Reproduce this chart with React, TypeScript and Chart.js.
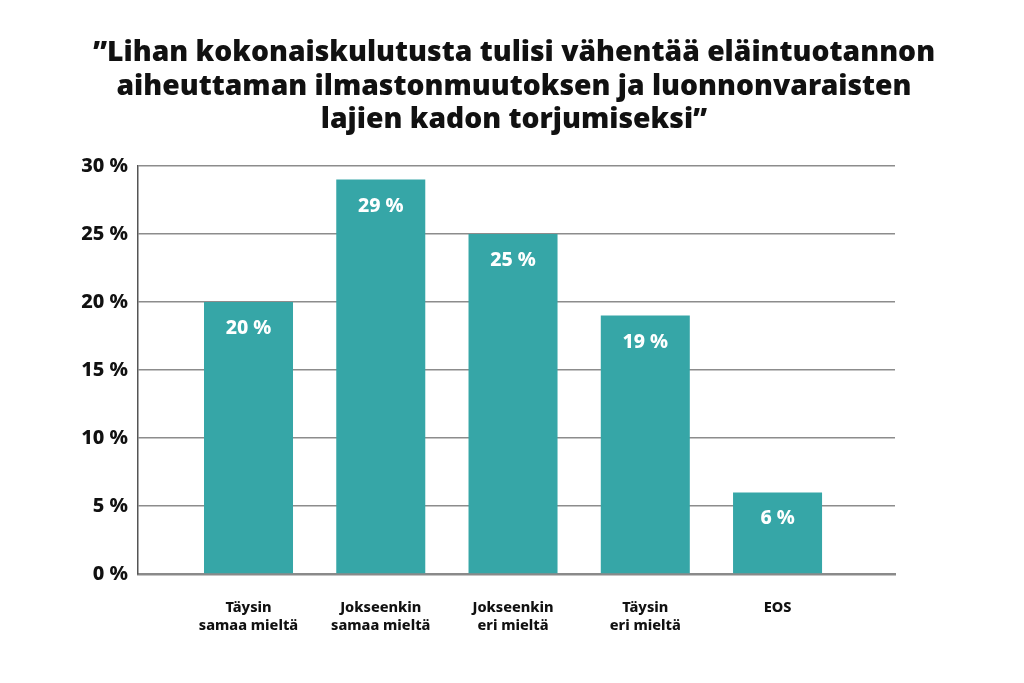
import React, { useEffect, useRef } from "react";
import { Chart, registerables } from "chart.js";

Chart.register(...registerables);

const titleLines = [
  "”Lihan kokonaiskulutusta tulisi vähentää eläintuotannon",
  "aiheuttaman ilmastonmuutoksen ja luonnonvaraisten",
  "lajien kadon torjumiseksi”",
];
const categories: string[][] = [
  ["Täysin", "samaa mieltä"],
  ["Jokseenkin", "samaa mieltä"],
  ["Jokseenkin", "eri mieltä"],
  ["Täysin", "eri mieltä"],
  ["EOS"],
];
const values = [20, 29, 25, 19, 6];
const yTicks = [0, 5, 10, 15, 20, 25, 30];
const barColor = "#36a6a7";
const FONT = "'Noto Sans'";

const dataLabelPlugin = {
  id: "dataLabels",
  afterDatasetsDraw(chart: any) {
    const ctx = chart.ctx;
    const meta = chart.getDatasetMeta(0);
    ctx.save();
    ctx.fillStyle = "#ffffff";
    ctx.font = "800 19.5px " + FONT;
    ctx.textAlign = "center";
    ctx.textBaseline = "middle";
    meta.data.forEach((bar: any, i: number) => {
      ctx.fillText(values[i] + " %", bar.x, bar.y + 26.5);
    });
    ctx.restore();
  },
};

export default function App() {
  const ref = useRef<HTMLCanvasElement | null>(null);
  useEffect(() => {
    document.body.style.margin = "0";
    if (!ref.current) return;
    const chart = new Chart(ref.current, {
      type: "bar",
      data: {
        datasets: [
          {
            data: values.map((v, i) => ({ x: i, y: v })),
            backgroundColor: barColor,
            borderWidth: 0,
            categoryPercentage: 1,
            barPercentage: 0.673,
          },
        ],
      },
      plugins: [dataLabelPlugin],
      options: {
        animation: false,
        responsive: true,
        maintainAspectRatio: false,
        layout: { padding: { left: 4, right: 0, top: 0, bottom: 0 } },
        plugins: {
          legend: { display: false },
          tooltip: { enabled: false },
          title: {
            display: true,
            text: titleLines,
            color: "#111111",
            font: { family: FONT, size: 28.3, weight: "900", lineHeight: 1.2 },
            padding: { top: 35.5, bottom: 28.5 },
          },
        },
        scales: {
          x: {
            type: "linear",
            min: -0.8355,
            max: 4.888,
            offset: false,
            grid: { display: false, drawTicks: false, offset: false },
            border: { display: true, color: "#8a8a8a", width: 2.5 },
            ticks: {
              stepSize: 1,
              includeBounds: false,
              autoSkip: false,
              maxRotation: 0,
              padding: 25,
              color: "#111111",
              font: { family: FONT, size: 14.5, weight: "800", lineHeight: 1.22 },
              callback: (v: any) => (Number.isInteger(v) && categories[v] ? categories[v] : ""),
            },
            afterFit: (s: any) => {
              s.height = 109;
            },
          },
          y: {
            min: 0,
            max: 30,
            grid: { color: "#8c8c8c", lineWidth: 1.5, drawTicks: false },
            border: { display: true, color: "#555555", width: 1.5 },
            afterBuildTicks: (s: any) => {
              s.ticks = yTicks.map((v) => ({ value: v }));
            },
            ticks: {
              padding: 10,
              color: "#111111",
              font: { family: FONT, size: 20, weight: "800" },
              callback: (v: any) => v + " %",
            },
            afterFit: (s: any) => {
              s.width = 134;
            },
          },
          yRightSpace: {
            type: "linear",
            position: "right",
            display: true,
            grid: { display: false, drawTicks: false },
            border: { display: false },
            ticks: { display: false },
            afterFit: (s: any) => {
              s.width = 129;
            },
          },
        },
      },
    } as any);
    return () => chart.destroy();
  }, []);
  return (
    <div style={{ width: 1024, height: 683, position: "relative", background: "#fff" }}>
      <canvas ref={ref} />
    </div>
  );
}
